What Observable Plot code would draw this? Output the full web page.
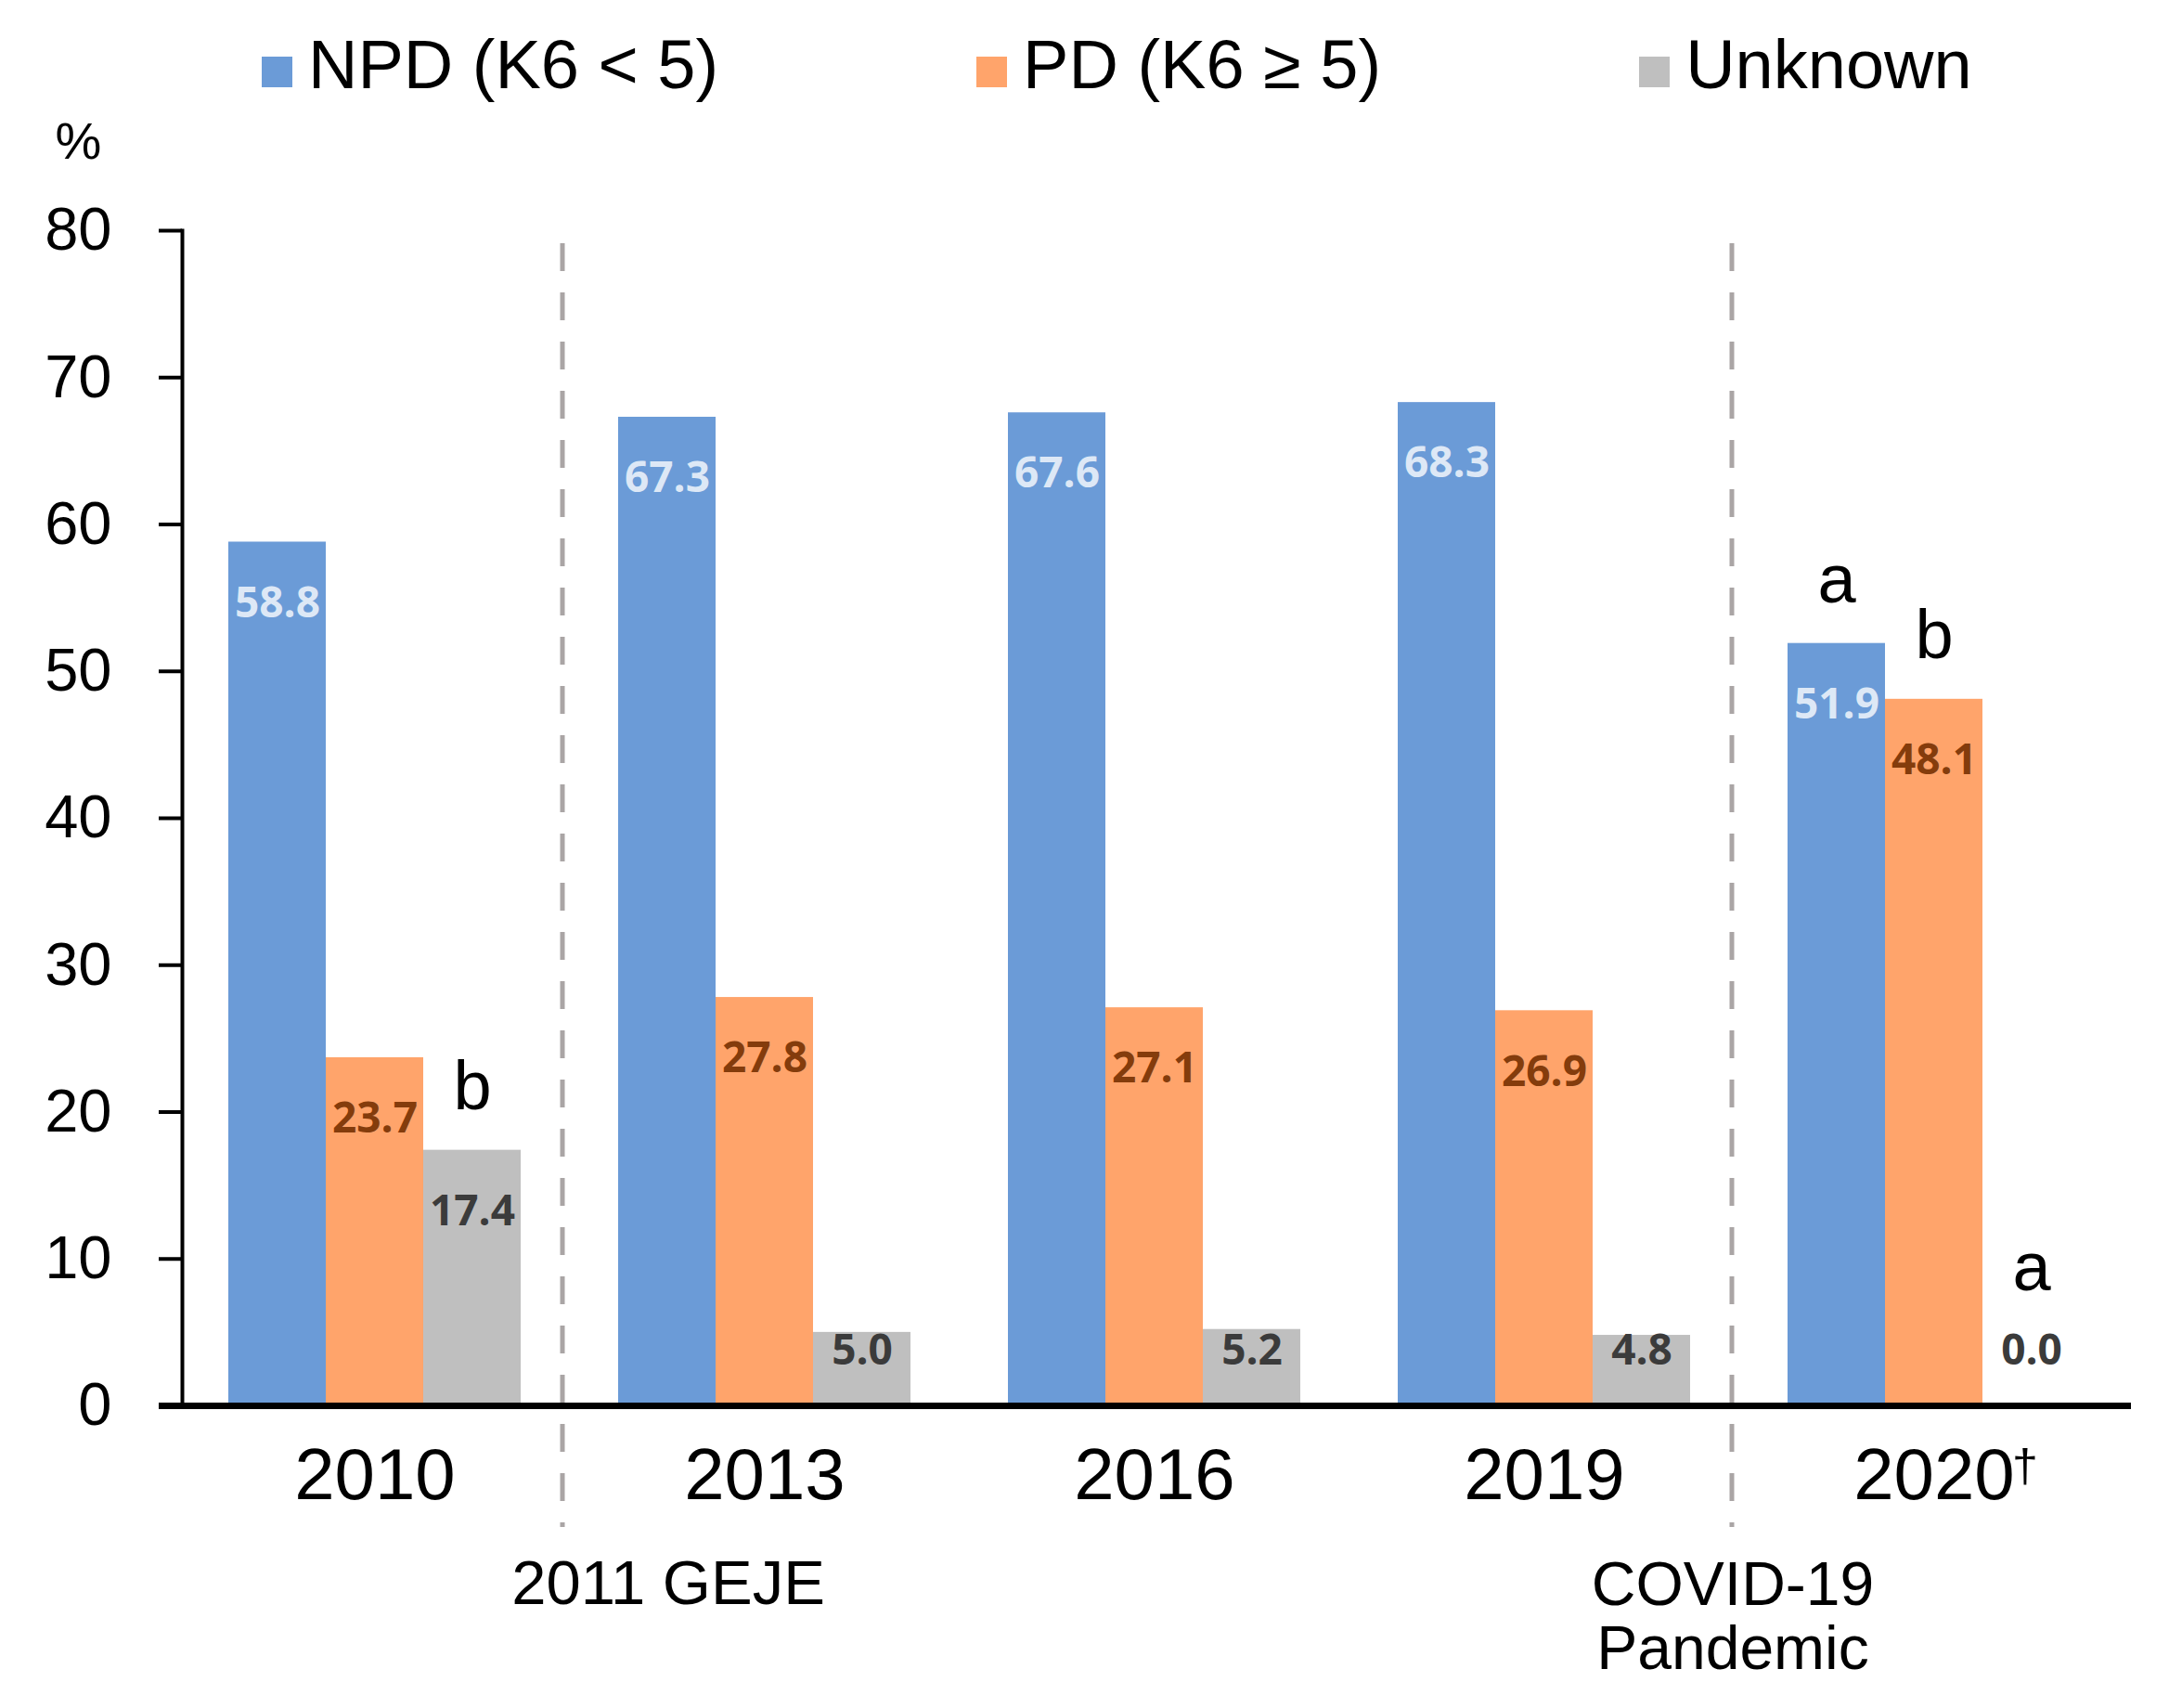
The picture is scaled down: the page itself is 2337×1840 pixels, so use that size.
<!DOCTYPE html>
<html>
<head>
<meta charset="utf-8">
<script src="https://cdn.jsdelivr.net/npm/d3@7"></script>
<script src="https://cdn.jsdelivr.net/npm/@observablehq/plot@0.6"></script>
<style>
  body { margin: 0; background: #fff; font-family: "Liberation Sans", Arial, sans-serif; }
  #legend { height: 130px; position: relative; display: flex; align-items: flex-start; padding-left: 282px; box-sizing: border-box; }
  .item { display: flex; align-items: flex-start; margin-right: 278px; }
  .swatch { width: 33px; height: 33px; margin-top: 61px; margin-right: 17px; }
  .ltext { font-size: 74px; line-height: 74px; margin-top: 33px; color: #000; white-space: pre; }
</style>
</head>
<body>
<div id="legend"></div>
<div id="chart"></div>
<script>
// ---- data ----
const years = ["2010", "2013", "2016", "2019", "2020"];
const yearLabels = ["2010", "2013", "2016", "2019", "2020"];
const yearNotes = ["", "", "", "", "\u2020"];
const seriesKeys = ["NPD", "PD", "Unknown"];
const seriesNames = ["NPD (K6 < 5)", "PD (K6 \u2265 5)", "Unknown"];
const npdValues = [58.8, 67.3, 67.6, 68.3, 51.9];
const pdValues = [23.7, 27.8, 27.1, 26.9, 48.1];
const unknownValues = [17.4, 5.0, 5.2, 4.8, 0.0];
const seriesColors = ["#6b9bd7", "#ffa46b", "#bfbfbf"];
const labelColors = ["#dde8f6", "#843c0c", "#3b3b3b"];
const yTicks = [0, 10, 20, 30, 40, 50, 60, 70, 80];
const eventAfterYears = ["2010", "2019"];
const eventTexts = ["2011 GEJE", "COVID-19\nPandemic"];
const letterYears = ["2010", "2020", "2020", "2020"];
const letterSeries = ["Unknown", "NPD", "PD", "Unknown"];
const letterTexts = ["b", "a", "b", "a"];

// ---- derived tables ----
const allValues = [npdValues, pdValues, unknownValues];
const slots = [];
years.forEach((y, i) => {
  seriesKeys.forEach(s => slots.push(`${y}|${s}`));
  if (i < years.length - 1) slots.push(`gap|${y}`);
});
const rows = years.flatMap((y, i) => seriesKeys.map((s, j) => ({
  year: y, series: s, slot: `${y}|${s}`, value: allValues[j][i]
})));
const middleSlots = years.map(y => `${y}|PD`);
const notes = years.map((y, i) => ({slot: `${y}|PD`, note: yearNotes[i]})).filter(d => d.note);
const letters = letterTexts.map((t, k) => {
  const r = rows.find(d => d.year === letterYears[k] && d.series === letterSeries[k]);
  return {slot: r.slot, value: r.value, text: t};
});

// ---- legend ----
const legend = document.getElementById("legend");
seriesNames.forEach((name, j) => {
  const item = document.createElement("div");
  item.className = "item";
  const sw = document.createElement("div");
  sw.className = "swatch";
  sw.style.background = seriesColors[j];
  const tx = document.createElement("div");
  tx.className = "ltext";
  tx.textContent = name;
  item.appendChild(sw); item.appendChild(tx);
  legend.appendChild(item);
});

// ---- chart ----
const labelMarks = seriesKeys.map((s, j) => Plot.text(rows.filter(d => d.series === s), {
  x: "slot",
  y: d => Math.max(d.value, 7.9),
  dy: 66,
  text: d => d.value.toFixed(1),
  fill: labelColors[j],
  fontSize: 46,
  fontWeight: "bold",
  fontFamily: "Open Sans"
}));

const chart = Plot.plot({
  width: 2337,
  height: 1710,
  marginTop: 118,
  marginBottom: 326,
  marginLeft: 196,
  marginRight: 46,
  style: {fontFamily: "Liberation Sans, Arial, sans-serif", background: "white", overflow: "visible", color: "black"},
  x: {domain: slots, paddingInner: 0, paddingOuter: 0.466, axis: null},
  y: {domain: [0, 80], axis: null},
  color: {domain: seriesKeys, range: seriesColors},
  marks: [
    Plot.ruleX(eventAfterYears.map(y => `gap|${y}`), {
      x: d => d, dx: -8, stroke: "#aaa5a5", strokeWidth: 5,
      strokeDasharray: "30,23", insetTop: 14, insetBottom: -131
    }),
    Plot.barY(rows, {x: "slot", y: "value", fill: "series"}),
    ...labelMarks,
    Plot.text(letters, {
      x: "slot", y: d => Math.max(d.value, 5.1), dy: -44, text: "text",
      lineAnchor: "bottom", fontSize: 74, fill: "black"
    }),
    Plot.ruleY([0], {strokeWidth: 7, insetLeft: -25, insetRight: -5}),
    Plot.frame({anchor: "left", strokeWidth: 4}),
    Plot.axisY(yTicks, {tickSize: 25, tickPadding: 51, fontSize: 65, strokeWidth: 4, tickFormat: d => String(d), label: null}),
    Plot.axisX(middleSlots, {
      tickSize: 0, tickPadding: 45, fontSize: 78, label: null,
      tickFormat: s => yearLabels[years.indexOf(s.split("|")[0])]
    }),
    Plot.text(notes, {x: "slot", y: () => 0, dx: 84, dy: 81, text: "note",
      textAnchor: "start", lineAnchor: "bottom", fontSize: 50, fill: "black"}),
    Plot.text([eventTexts[0]], {x: () => `gap|${eventAfterYears[0]}`, y: () => 0, dx: 106, dy: 166,
      text: d => d, lineAnchor: "top", fontSize: 67, fill: "black"}),
    Plot.text([eventTexts[1]], {x: () => `gap|${eventAfterYears[1]}`, y: () => 0, dx: -7, dy: 166,
      text: d => d, lineAnchor: "top", lineHeight: 1.04, fontSize: 66, fill: "black"}),
    Plot.text(["%"], {frameAnchor: "top-left", dx: -112, dy: -95, text: d => d,
      textAnchor: "middle", lineAnchor: "middle", fontSize: 56, fill: "black"})
  ]
});
document.getElementById("chart").appendChild(chart);
</script>
</body>
</html>
